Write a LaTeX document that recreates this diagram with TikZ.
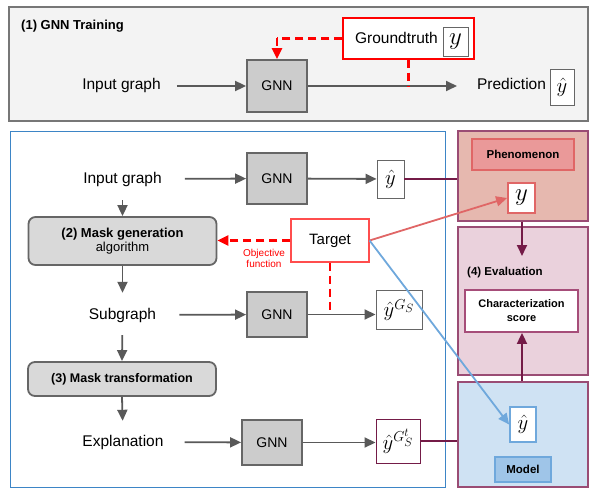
\RequirePackage{fix-cm}
\documentclass[tikz,border=0pt]{standalone}
\usepackage{fontspec}
\setmainfont{Liberation Sans}
\usetikzlibrary{arrows.meta}
\definecolor{topfill}{HTML}{F3F3F3}
\definecolor{topborder}{HTML}{777777}
\definecolor{gnnfill}{HTML}{CCCCCC}
\definecolor{gnnborder}{HTML}{666666}
\definecolor{maskfill}{HTML}{D9D9D9}
\definecolor{arrgray}{HTML}{595959}
\definecolor{bluepanel}{HTML}{3D85C6}
\definecolor{purp}{HTML}{741B47}
\definecolor{panelborder}{HTML}{9A4C74}
\definecolor{phenfill}{HTML}{E6B8AF}
\definecolor{phenlab}{HTML}{EA9999}
\definecolor{lightred}{HTML}{E06666}
\definecolor{evalfill}{HTML}{EAD1DC}
\definecolor{charborder}{HTML}{A64D79}
\definecolor{modelfill}{HTML}{CFE2F3}
\definecolor{modellab}{HTML}{9FC5E8}
\definecolor{lightblue}{HTML}{6FA8DC}
\definecolor{targetred}{HTML}{FF4D4D}
\begin{document}
\begin{tikzpicture}[x=1pt,y=-1pt,
  txt/.style={inner sep=0pt, text height=11pt, text depth=3pt, font=\fontsize{15.5}{18}\selectfont},
  ttl/.style={inner sep=0pt, font=\fontsize{13}{15}\selectfont\bfseries},
  gnn/.style={draw=gnnborder, fill=gnnfill, line width=1.8pt, minimum width=60pt, inner sep=0pt, font=\fontsize{14}{16}\selectfont},
  ybox/.style={draw=gnnborder, fill=white, line width=0.9pt, inner sep=0pt, font=\fontsize{24.88}{25}\selectfont},
  mbox/.style={ybox, font=\fontsize{20.74}{21}\selectfont},
  maskbox/.style={draw=gnnborder, fill=maskfill, line width=1.8pt, rounded corners=7pt, minimum width=188pt, inner sep=0pt, align=center},
  panelbox/.style={draw=panelborder, line width=1.4pt, minimum width=130pt, inner sep=0pt},
  tip/.style={-{Triangle[length=11pt,width=10pt]}},
  arr/.style={draw=arrgray, line width=1.8pt, tip},
  reddash/.style={draw=red, line width=2.2pt, dash pattern=on 8pt off 5pt},
  purpline/.style={draw=purp, line width=1.8pt},
  purparr/.style={draw=purp, line width=1.8pt, tip},
  redarr/.style={draw=lightred, line width=1.8pt, tip},
  bluearr/.style={draw=lightblue, line width=1.8pt, tip}]
\useasboundingbox (0,0) rectangle (598,495);

% ---------- (1) GNN Training ----------
\node[draw=topborder, fill=topfill, line width=1.1pt, minimum width=579pt, minimum height=114pt, inner sep=0pt] (p1) at (298.5,64) {};
\node[ttl, anchor=west] (t1) at (21,26) {(1) GNN Training};
\node[txt] (in1) at (121.5,86) {Input graph};
\node[gnn, minimum height=52pt] (g1) at (277,86) {GNN};
\node[draw=red, fill=white, line width=1.1pt, minimum width=131pt, minimum height=41pt, inner sep=0pt] (gt) at (408.5,38.5) {};
\node[txt] (gtt) at (396.5,40) {Groundtruth};
\node[ybox, minimum width=25pt, minimum height=29pt] (gty) at (455.5,41.5) {$y$};
\node[txt] (pred) at (511.5,86) {Prediction};
\node[mbox, minimum width=24pt, minimum height=36pt] (py) at (562,87) {$\hat{y}$};
\coordinate (pe) at (457,86);
\coordinate (bend) at (277,38.5);

\draw[arr, shorten <=16pt] (in1) -- (g1);
\draw[arr] (g1) -- (pe);
\draw[reddash] (gt.south) -- (gt.south |- pe);
\draw[reddash] (gt.west) -- (bend);
\draw[reddash, tip] (bend) -- (g1.north);

% ---------- explanation panel ----------
\node[draw=bluepanel, line width=1pt, minimum width=435pt, minimum height=355pt, inner sep=0pt] (p2) at (227.5,309.5) {};

% right panels
\node[panelbox, fill=phenfill, minimum height=90pt] (phen) at (523,176) {};
\node[panelbox, fill=evalfill, minimum height=148pt] (eval) at (523,301) {};
\node[panelbox, fill=modelfill, minimum height=105pt] (model) at (523,434.5) {};

% row 1
\node[txt] (in2) at (122.5,179) {Input graph};
\node[gnn, minimum height=51pt] (g2) at (277,178.5) {GNN};
\node[mbox, minimum width=27pt, minimum height=38pt] (yh2) at (390.5,179) {$\hat{y}$};
\draw[arr, shorten <=23pt] (in2) -- (g2);
\draw[arr] (g2) -- (yh2);
\draw[purpline] (yh2.east) -- (yh2.east -| phen.west);

% mask generation
\node[maskbox, minimum height=48pt] (mg) at (122.5,241) {{\fontsize{13}{15}\selectfont\bfseries (2) Mask generation}\\[1pt]{\fontsize{13}{15}\selectfont algorithm}};
\draw[arr, shorten <=14pt] (in2.south) -- (mg.north);

% target
\node[draw=targetred, fill=white, line width=1.1pt, minimum width=78pt, minimum height=43pt, inner sep=0pt, font=\fontsize{15}{18}\selectfont] (tg) at (330,240.5) {Target};
\draw[reddash, tip] (tg.west) -- (tg.west -| mg.east);
\node[text=red, align=center, inner sep=0pt, font=\fontsize{10}{11.5}\selectfont] (obj) at (264,258.5) {Objective\\function};

% row 2
\node[txt] (sub) at (122.5,315) {Subgraph};
\node[gnn, minimum height=45pt] (g3) at (277,314.5) {GNN};
\node[mbox, minimum width=46pt, minimum height=39pt] (yh3) at (399,310) {$\hat{y}^{G_S}$};
\draw[arr, shorten >=15pt] (mg.south) -- (sub.north);
\draw[arr, shorten <=23pt] (sub) -- (g3);
\draw[arr] (g3.east) -- (g3.east -| yh3.west);
\draw[reddash] (tg.south) -- (tg.south |- g3.east);

% mask transformation
\node[maskbox, minimum height=34pt, font=\fontsize{12.5}{15}\selectfont\bfseries] (mt) at (122,379) {(3) Mask transformation};
\draw[arr, shorten <=13pt] (sub.south) -- (mt.north);

% row 3
\node[txt] (exp) at (123,442) {Explanation};
\node[gnn, minimum height=45pt] (g4) at (272,442.5) {GNN};
\node[mbox, draw=purp, minimum width=44pt, minimum height=44pt] (yh4) at (398,441) {$\hat{y}^{G_S^t}$};
\draw[arr, shorten >=14pt] (mt.south) -- (exp.north);
\draw[arr, shorten <=21pt] (exp) -- (g4);
\draw[arr] (g4.east) -- (g4.east -| yh4.west);
\draw[purpline] (yh4.east) -- (yh4.east -| model.west);

% ---------- right column contents ----------
\node[draw=lightred, fill=phenlab, line width=1.8pt, minimum width=102pt, minimum height=31pt, inner sep=0pt, font=\fontsize{11.5}{14}\selectfont\bfseries] (phl) at (523,154.5) {Phenomenon};
\node[ybox, draw=lightred, line width=1.8pt, minimum width=27pt, minimum height=30pt] (yp) at (521.5,198) {$y$};

\node[ttl, anchor=west, font=\fontsize{11.5}{14}\selectfont\bfseries] (evl) at (467,273) {(4) Evaluation};
\node[draw=charborder, fill=white, line width=1.8pt, minimum width=113pt, minimum height=42pt, inner sep=0pt, align=center, font=\fontsize{11}{14}\selectfont\bfseries] (cs) at (521.5,311) {Characterization\\score};
\coordinate (ea) at (522,256);
\draw[purparr] (phen.south -| ea) -- (ea);
\draw[purparr] (model.north -| ea) -- (cs.south -| ea);

\node[mbox, draw=lightblue, line width=1.8pt, minimum width=26pt, minimum height=35pt] (yhm) at (523,424.5) {$\hat{y}$};
\node[draw=lightblue, fill=modellab, line width=1.8pt, minimum width=56pt, minimum height=25pt, inner sep=0pt, font=\fontsize{11.5}{14}\selectfont\bfseries] (ml) at (523,469.5) {Model};

% colored connectors from target
\draw[redarr] (tg.east) -- (yp.west);
\draw[bluearr] (tg.east) -- (yhm.west);
\end{tikzpicture}
\end{document}
